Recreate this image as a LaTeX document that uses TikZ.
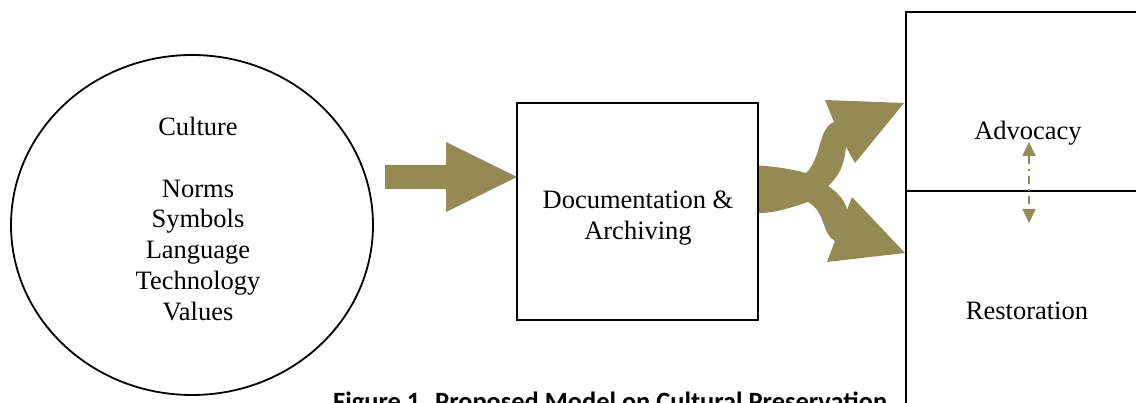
\documentclass[tikz,border=0pt]{standalone}
\usepackage{fontspec}
\setmainfont{Liberation Serif}
\newfontfamily\capfont{Carlito}
\usetikzlibrary{arrows.meta,shapes.geometric}
\definecolor{olivefill}{RGB}{148,138,84}
\begin{document}
\begin{tikzpicture}[x=1pt,y=-1pt,
  bodytext/.style={font=\fontsize{26.5}{30.7}\selectfont, align=center, inner sep=0pt},
  frame/.style={draw=black, line width=1.8pt},
  blockarrow/.style={fill=olivefill, draw=none}]
\useasboundingbox (0,0) rectangle (1136,403);
% ellipse
\node[frame, ellipse, minimum width=362pt, minimum height=340pt, inner sep=0pt] (culture) at (192,225) {};
\node[bodytext] (culturetext) at (198,219) {Culture\\[30.7pt]Norms\\Symbols\\Language\\Technology\\Values};
% first block arrow
\fill[blockarrow] (385,165) -- (446,165) -- (446,142) -- (517,177) -- (446,212) -- (446,189) -- (385,189) -- cycle;
% documentation box
\node[frame, minimum width=241pt, minimum height=217pt, inner sep=0pt] (doc) at (637.5,211.5) {};
\node[bodytext] (doctext) at (638,218) {Documentation \&\\Archiving};
% right boxes
\draw[frame] (906,12) rectangle (1145,191);
\draw[frame] (906,191) rectangle (1145,420);
\node[bodytext] (adv) at (1028,133) {Advocacy};
\node[bodytext] (rest) at (1027,311) {Restoration};
% split arrow
\fill[blockarrow] (759,165.5) .. controls (780,167) and (795,170) .. (806,173)
  .. controls (822,158) and (818,128) .. (834,122)
  -- (825,100) -- (904,103) -- (855,163) -- (846,147)
  .. controls (844,165) and (840,175) .. (828,186)
  .. controls (840,194) and (846,203) .. (847,210)
  -- (852,197) -- (905,253) -- (827,262) -- (835,241)
  .. controls (822,235) and (826,212) .. (808,202)
  .. controls (790,208) and (775,213) .. (759,213) -- cycle;
% dash-dot double arrow
\coordinate (advlow) at (1029,142);
\coordinate (resthigh) at (1029,223);
\draw[draw=olivefill, line width=1.6pt, dash pattern=on 8pt off 5pt on 2pt off 5pt,
  {Triangle[width=13pt,length=14pt]}-{Triangle[width=13pt,length=14pt]}] (advlow) -- (resthigh);
% caption
\node[anchor=base west, inner sep=0pt, font=\capfont\bfseries\fontsize{26.4}{30}\selectfont] (caption) at (333,410) {Figure 1. Proposed Model on Cultural Preservation};
\end{tikzpicture}
\end{document}
